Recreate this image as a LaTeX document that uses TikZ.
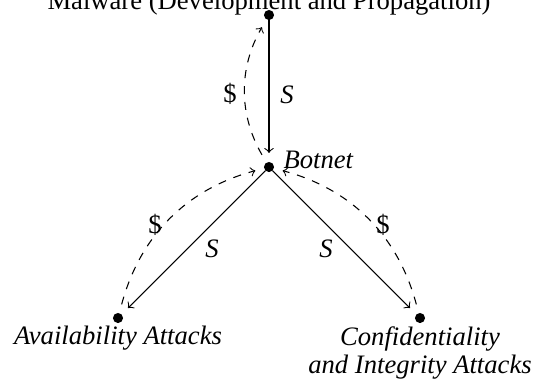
\documentclass[tikz,border=0pt]{standalone}
\usepackage{fontspec}
\setmainfont{Liberation Serif}
\begin{document}
\begin{tikzpicture}[x=0.3755pt,y=-0.3755pt,
  dot/.style={circle,fill,inner sep=0pt,minimum size=3.8pt,outer sep=0pt},
  lbl/.style={inner sep=0pt,font=\itshape},
  cash/.style={inner sep=0pt},
  flow/.style={->,shorten >=3.4pt},
  money/.style={->,dashed,shorten <=3.4pt,shorten >=3.4pt}]
\useasboundingbox (0,0) rectangle (536,380);
\node[dot] (m) at (269,15) {};
\node[dot] (b) at (269,167) {};
\node[dot] (av) at (118,318) {};
\node[dot] (ci) at (420,318) {};
\node[inner sep=0pt,anchor=base] (mt) at (269,9) {Malware (Development and Propagation)};
\node[lbl,anchor=base west] (bt) at (283,168) {Botnet};
\node[lbl,anchor=base] (at) at (118,344) {Availability Attacks};
\node[lbl,anchor=base,align=center] (ct) at (420,373) {Confidentiality\\[-1.5pt]and Integrity Attacks};
\draw[flow] (m) -- (b);
\draw[flow] (b) -- (av);
\draw[flow] (b) -- (ci);
\draw[money] (b) to[bend left=30] (m);
\draw[money] (av) to[bend left=30] (b);
\draw[money] (ci) to[bend right=30] (b);
\node[lbl] (s1) at (287,95) {S};
\node[lbl] (s2) at (212,249) {S};
\node[lbl] (s3) at (326,249) {S};
\node[cash] (d1) at (230,94) {\$};
\node[cash] (d2) at (155,225) {\$};
\node[cash] (d3) at (383,225) {\$};
\end{tikzpicture}
\end{document}
